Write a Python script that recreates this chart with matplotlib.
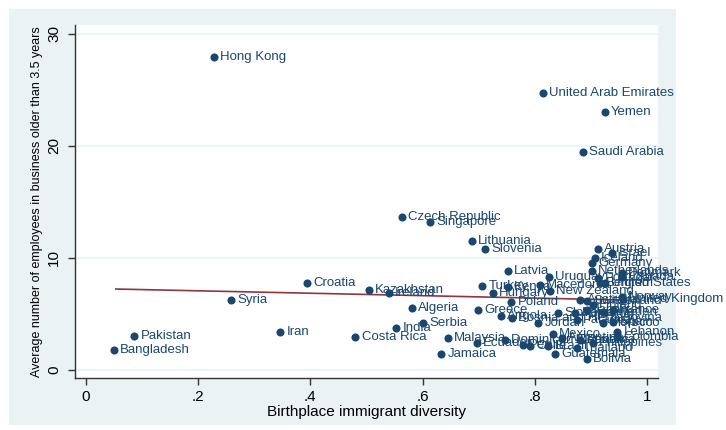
"""Scatter of firm size against birthplace diversity, Stata s2color look."""

import matplotlib

matplotlib.use("Agg")
import matplotlib.pyplot as plt
from matplotlib.patches import Rectangle

plt.rcParams["font.family"] = ["Liberation Sans", "DejaVu Sans"]

countries = [
    "Hong Kong", "United Arab Emirates", "Yemen", "Saudi Arabia", "Czech Republic",
    "Singapore", "Lithuania", "Slovenia", "Austria", "Israel", "Iceland", "Germany",
    "Netherlands", "Denmark", "Canada", "Latvia", "Uruguay", "Portugal", "Belgium",
    "United States", "Turkey", "Kenya", "Macedonia", "Hungary", "New Zealand",
    "Croatia", "Kazakhstan", "Ireland", "Syria", "Poland", "Norway", "United Kingdom",
    "Australia", "Switzerland", "Finland", "Greece", "Algeria", "Slovakia", "Romania",
    "Japan", "Sweden", "France", "Angola", "Bosnia and Herzegovina", "Jordan",
    "Paraguay", "Spain", "Morocco", "Serbia", "India", "Iran", "Pakistan", "Bangladesh",
    "Costa Rica", "Malaysia", "Jamaica", "Ecuador", "Dominican Republic", "Peru",
    "Chile", "Mexico", "Argentina", "Brazil", "Guatemala", "Thailand", "Bolivia",
    "Philippines", "Lebanon", "Colombia", "Panama",
]
diversity = [
    0.228, 0.815, 0.925, 0.886, 0.563,
    0.613, 0.688, 0.711, 0.913, 0.938, 0.907, 0.902,
    0.902, 0.955, 0.955, 0.752, 0.825, 0.913, 0.916,
    0.925, 0.706, 0.752, 0.809, 0.725, 0.827,
    0.394, 0.504, 0.540, 0.258, 0.758, 0.955, 0.957,
    0.881, 0.893, 0.904, 0.699, 0.581, 0.841, 0.872,
    0.893, 0.922, 0.939, 0.740, 0.759, 0.806,
    0.875, 0.939, 0.922, 0.601, 0.553, 0.346, 0.086, 0.050,
    0.480, 0.645, 0.633, 0.697, 0.747, 0.779,
    0.791, 0.832, 0.848, 0.824, 0.836, 0.875, 0.893,
    0.904, 0.947, 0.947, 0.881,
]
employees = [
    27.9, 24.7, 23.0, 19.5, 13.7,
    13.2, 11.5, 10.8, 10.8, 10.45, 10.0, 9.55,
    8.84, 8.66, 8.30, 8.84, 8.30, 8.21, 7.77,
    7.77, 7.50, 7.41, 7.59, 6.88, 7.05,
    7.77, 7.14, 6.88, 6.25, 6.07, 6.52, 6.35,
    6.25, 6.16, 5.80, 5.36, 5.54, 5.09, 5.09,
    5.36, 5.18, 5.36, 4.82, 4.64, 4.20,
    4.46, 4.29, 4.20, 4.20, 3.75, 3.39, 3.04, 1.79,
    2.95, 2.86, 1.43, 2.41, 2.68, 2.23,
    2.14, 3.21, 2.86, 2.14, 1.43, 1.96, 0.98,
    2.41, 3.39, 2.95, 2.68,
]

# linear fit endpoints as drawn
fit_x = [0.053, 0.957]
fit_y = [7.23, 6.25]

x_ticks = [0, 0.2, 0.4, 0.6, 0.8, 1.0]
x_tick_labels = ["0", ".2", ".4", ".6", ".8", "1"]
y_ticks = [0, 10, 20, 30]

navy = "#1a476f"
maroon = "#90353b"
bg = "#eaf2f3"

fig = plt.figure(figsize=(7.26, 4.30), dpi=100)
fig.patch.set_facecolor("white")
fig.add_artist(
    Rectangle((0.0124, 0.0116), 0.9187, 0.9674, transform=fig.transFigure,
              facecolor=bg, edgecolor="none", zorder=-5)
)

ax = fig.add_axes([0.1033, 0.1209, 0.803, 0.821])
ax.set_zorder(1)
ax.set_facecolor("white")
ax.set_xlim(-0.0196, 1.0196)
ax.set_ylim(-0.714, 30.8)

ax.scatter(diversity, employees, s=34, color=navy, zorder=3, linewidths=0)
for name, x, y in zip(countries, diversity, employees):
    ax.annotate(name, (x, y), xytext=(4.5, 0), textcoords="offset points",
                va="center", ha="left", fontsize=9.5, color=navy, zorder=4,
                annotation_clip=False)

ax.plot(fit_x, fit_y, color=maroon, linewidth=1.2, zorder=2)

ax.set_xticks(x_ticks)
ax.set_xticklabels(x_tick_labels)
ax.set_yticks(y_ticks)
ax.set_yticklabels([str(v) for v in y_ticks], rotation=90, va="center")
ax.tick_params(axis="both", labelsize=11, length=5, width=1, color="#333333",
               labelcolor="black", direction="out")
ax.tick_params(axis="y", pad=5)
ax.grid(axis="y", color=bg, linewidth=1.2, zorder=0)
ax.grid(axis="x", visible=False)
ax.set_axisbelow(True)
for side in ["top", "right"]:
    ax.spines[side].set_visible(False)
for side in ["left", "bottom"]:
    ax.spines[side].set_color("#333333")
    ax.spines[side].set_linewidth(1)

ax.set_xlabel("Birthplace immigrant diversity", fontsize=11, labelpad=1)
ax.set_ylabel("Average number of employees in business older than 3.5 years",
              fontsize=9, labelpad=3)

fig.savefig("out.png", dpi=100)
